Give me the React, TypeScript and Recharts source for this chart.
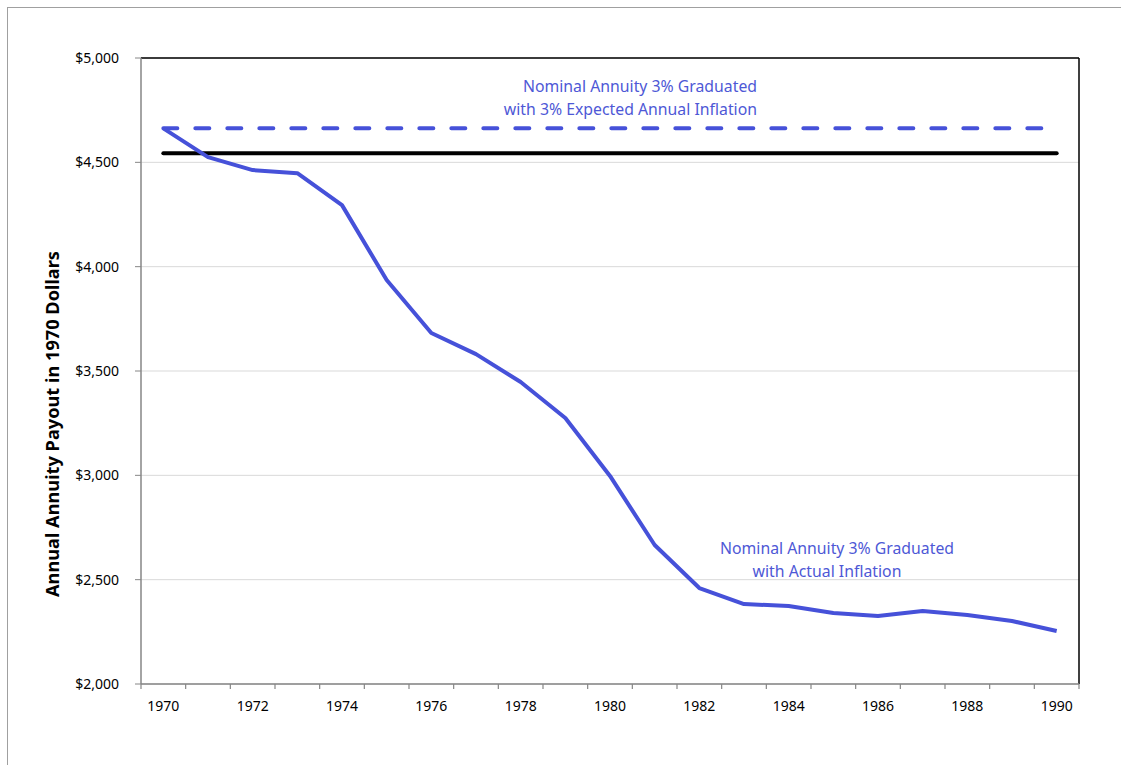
import React from "react"
import {
  LineChart,
  Line,
  XAxis,
  YAxis,
  CartesianGrid,
  ReferenceLine,
} from "recharts"

const YEARS = [
  1970, 1971, 1972, 1973, 1974, 1975, 1976, 1977, 1978, 1979, 1980, 1981,
  1982, 1983, 1984, 1985, 1986, 1987, 1988, 1989, 1990,
]
const ACTUAL_INFLATION = [
  4663, 4525, 4463, 4448, 4295, 3936, 3682, 3581, 3447, 3275, 2997, 2666,
  2460, 2383, 2374, 2340, 2326, 2350, 2331, 2302, 2254,
]
const EXPECTED_INFLATION = [
  4663, 4663, 4663, 4663, 4663, 4663, 4663, 4663, 4663, 4663, 4663, 4663,
  4663, 4663, 4663, 4663, 4663, 4663, 4663, 4663, 4663,
]
const REAL_LEVEL = [
  4543, 4543, 4543, 4543, 4543, 4543, 4543, 4543, 4543, 4543, 4543, 4543,
  4543, 4543, 4543, 4543, 4543, 4543, 4543, 4543, 4543,
]
const Y_TICKS = [2000, 2500, 3000, 3500, 4000, 4500, 5000]
const X_LABEL_TICKS = [1970, 1972, 1974, 1976, 1978, 1980, 1982, 1984, 1986, 1988, 1990]
const X_BOUNDARY_TICKS = [
  1969.5, 1970.5, 1971.5, 1972.5, 1973.5, 1974.5, 1975.5, 1976.5, 1977.5,
  1978.5, 1979.5, 1980.5, 1981.5, 1982.5, 1983.5, 1984.5, 1985.5, 1986.5,
  1987.5, 1988.5, 1989.5, 1990.5,
]

const data = YEARS.map((year, i) => ({
  year,
  actual: ACTUAL_INFLATION[i],
  expected: EXPECTED_INFLATION[i],
  real: REAL_LEVEL[i],
}))

const FONT = "'Noto Sans', sans-serif"
const BLUE = "#4651d9"
const TEXT_BLUE = "#4e58d6"
const AXIS_GRAY = "#868686"

const money = (v: number) => "$" + v.toLocaleString("en-US")

export default function App() {
  return (
    <div
      style={{
        position: "fixed",
        left: 0,
        top: 0,
        width: 1121,
        height: 765,
        overflow: "hidden",
        background: "#fff",
        fontFamily: FONT,
      }}
    >
      <div
        style={{
          position: "absolute",
          left: 7,
          top: 7,
          width: 1200,
          height: 900,
          border: "1px solid #a0a0a0",
        }}
      />
      <div style={{ position: "absolute", left: 0, top: 0 }}>
        <LineChart
          width={1121}
          height={765}
          data={data}
          margin={{ top: 58, right: 42, bottom: 50, left: 41 }}
        >
          <CartesianGrid horizontal vertical={false} stroke="#d9d9d9" />
          {/* axis 0 carries the tick marks on the category boundaries */}
          <XAxis
            xAxisId={0}
            dataKey="year"
            type="number"
            domain={[1969.5, 1990.5]}
            ticks={X_BOUNDARY_TICKS}
            tickFormatter={() => ""}
            tickSize={5}
            height={1}
            tickLine={{ stroke: AXIS_GRAY, strokeWidth: 1.2 }}
            axisLine={{ stroke: AXIS_GRAY, strokeWidth: 1.5 }}
          />
          <XAxis
            xAxisId="labels"
            dataKey="year"
            type="number"
            domain={[1969.5, 1990.5]}
            ticks={X_LABEL_TICKS}
            tickLine={false}
            axisLine={false}
            tickSize={5}
            tickMargin={11}
            height={30}
            tick={{ fill: "#000", fontSize: 14, fontFamily: FONT }}
          />
          <YAxis
            type="number"
            domain={[2000, 5000]}
            ticks={Y_TICKS}
            tickFormatter={money}
            width={100}
            tickSize={6}
            tickMargin={16}
            stroke={AXIS_GRAY}
            axisLine={{ stroke: AXIS_GRAY, strokeWidth: 1.5 }}
            tick={{ fill: "#000", fontSize: 14, fontFamily: FONT }}
            label={{
              value: "Annual Annuity Payout in 1970 Dollars",
              angle: -90,
              position: "insideLeft",
              offset: 12,
              dy: 53,
              style: {
                fontSize: 18.2,
                fontWeight: 700,
                fill: "#000",
                fontFamily: FONT,
                textAnchor: "middle",
              },
            }}
          />
          <ReferenceLine y={5000} stroke="#000" strokeWidth={1.5} />
          <ReferenceLine x={1990.5} stroke="#000" strokeWidth={1.5} />
          <Line
            dataKey="real"
            stroke="#000"
            strokeWidth={4}
            dot={false}
            strokeLinecap="round"
            isAnimationActive={false}
          />
          <Line
            dataKey="expected"
            stroke={BLUE}
            strokeWidth={4}
            strokeDasharray="14 18"
            strokeLinecap="round"
            dot={false}
            isAnimationActive={false}
          />
          <Line
            dataKey="actual"
            stroke={BLUE}
            strokeWidth={4}
            strokeLinejoin="round"
            dot={false}
            isAnimationActive={false}
          />
        </LineChart>
      </div>
      <div
        style={{
          position: "absolute",
          right: 1121 - 757,
          top: 75,
          color: TEXT_BLUE,
          fontSize: 15.8,
          lineHeight: "23px",
          textAlign: "right",
          whiteSpace: "nowrap",
        }}
      >
        Nominal Annuity 3% Graduated
        <br />
        with 3% Expected Annual Inflation
      </div>
      <div
        style={{
          position: "absolute",
          left: 837 - 150,
          width: 300,
          top: 537,
          color: TEXT_BLUE,
          fontSize: 15.8,
          lineHeight: "23px",
          textAlign: "center",
          whiteSpace: "nowrap",
        }}
      >
        Nominal Annuity 3% Graduated
        <br />
        <span style={{ position: "relative", left: -10 }}>with Actual Inflation</span>
      </div>
    </div>
  )
}
